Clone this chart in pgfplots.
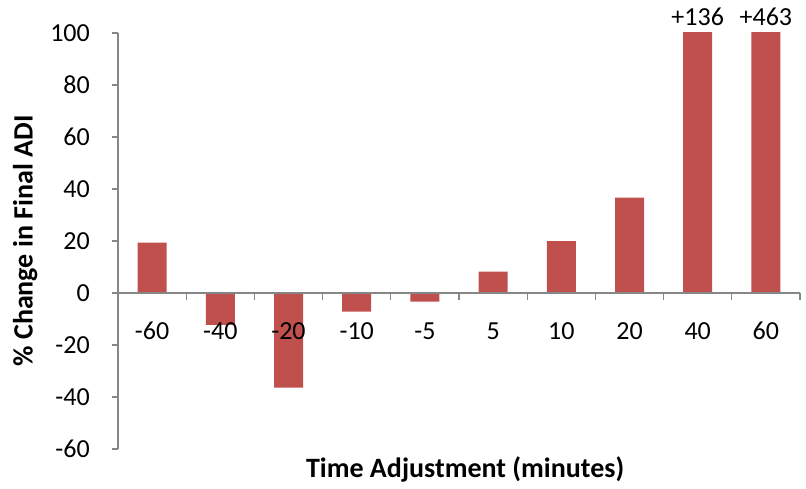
\documentclass[border=0pt]{standalone}
\usepackage{pgfplots}
\pgfplotsset{compat=1.18}
\usepackage{fontspec}
\setmainfont{Carlito}
\definecolor{barred}{HTML}{C0504D}
\definecolor{axgray}{HTML}{868686}
\begin{document}
\begin{tikzpicture}
\begin{axis}[
  scale only axis, width=682pt, height=416pt,
  xmin=-0.5, xmax=9.5, ymin=-60, ymax=100,
  axis on top,
  axis x line*=middle, axis y line*=left,
  axis line style={axgray, line width=1.2pt},
  ytick={-60,-40,...,100},
  xtick={0,...,9},
  xticklabels={-60,-40,-20,-10,-5,5,10,20,40,60},
  minor xtick={0.5,1.5,...,9.5},
  major x tick style={draw=none},
  minor x tick style={axgray, line width=1.2pt},
  ytick style={axgray, line width=1.2pt},
  tick align=outside,
  major tick length=6pt, minor tick length=7pt,
  /pgf/number format/assume math mode=true,
  tick label style={font=\fontsize{26}{31}\selectfont},
  xticklabel style={anchor=center, yshift=-32pt},
  yticklabel style={anchor=east, inner sep=0pt, xshift=-22pt},
  ybar, bar width=29pt,
  clip mode=individual,
  xlabel={\textbf{Time Adjustment (minutes)}},
  ylabel={\textbf{\% Change in Final ADI}},
  label style={font=\fontsize{28}{33}\selectfont},
  xlabel style={at={(rel axis cs:0.509,-0.048)}, anchor=center},
  ylabel style={at={(rel axis cs:-0.136,0.5)}, anchor=center},
]
\addplot[fill=barred, draw=none] coordinates {
  (0,19.4) (1,-12.3) (2,-36.4) (3,-7.2) (4,-3.3)
  (5,8.2) (6,20.0) (7,36.7) (8,136) (9,463)
};
\node[anchor=south, inner sep=0pt, yshift=7pt, font=\fontsize{26}{31}\selectfont] at (axis cs:8,100) {+136};
\node[anchor=south, inner sep=0pt, yshift=7pt, font=\fontsize{26}{31}\selectfont] at (axis cs:9,100) {+463};
\coordinate (ll) at (rel axis cs:0,0);
\coordinate (ur) at (rel axis cs:1,1);
\end{axis}
\pgfresetboundingbox
\path[use as bounding box] ([shift={(-118pt,-39pt)}]ll) rectangle ([shift={(6pt,33pt)}]ur);
\end{tikzpicture}
\end{document}
